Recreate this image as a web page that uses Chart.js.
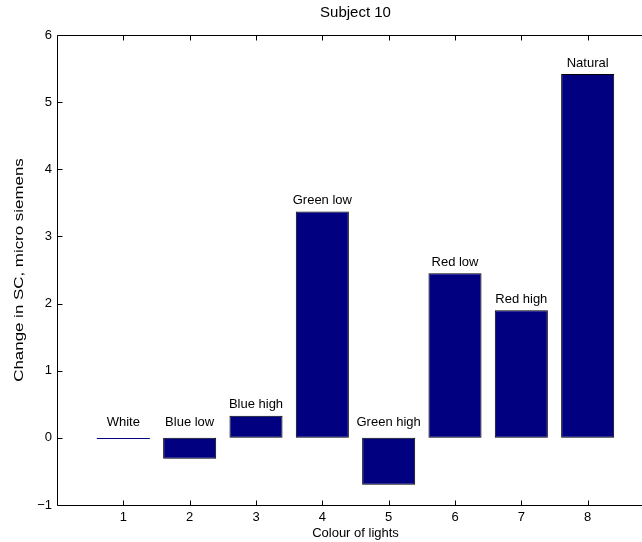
<!DOCTYPE html>
<html>
<head>
<meta charset="utf-8">
<script src="https://cdn.jsdelivr.net/npm/chart.js@4.4.1/dist/chart.umd.min.js"></script>
<style>
  html, body { margin: 0; padding: 0; background: #fff; overflow: hidden; width: 642px; height: 542px; }
  #wrap { position: relative; width: 642px; height: 542px; overflow: hidden; }
  #c { display: block; width: 700px; height: 542px; }
</style>
</head>
<body>
<div id="wrap"><canvas id="c" width="700" height="542"></canvas></div>
<script>
// Change in skin conductance per lighting condition (Subject 10)
const lightPositions = [1, 2, 3, 4, 5, 6, 7, 8];
const lightNames = ['White', 'Blue low', 'Blue high', 'Green low', 'Green high', 'Red low', 'Red high', 'Natural'];
const scChange = [0, -0.31, 0.33, 3.37, -0.70, 2.45, 1.90, 5.42];
const xTickValues = [1, 2, 3, 4, 5, 6, 7, 8];
const yTickValues = [-1, 0, 1, 2, 3, 4, 5, 6];
const yAxisLabel = 'Change in SC, micro siemens';

const FONT = "'Liberation Sans', Arial, Helvetica, sans-serif";
const BAR_FILL = '#000080';

// Axes frame (left, top, bottom) with inward tick marks
const boxTicks = {
  id: 'boxTicks',
  afterDraw(chart) {
    const { ctx, chartArea: a, scales: { x, y } } = chart;
    const len = 5;
    const L = Math.round(a.left) + 0.5, T = Math.round(a.top) + 0.5;
    const R = Math.round(a.right) + 0.5, B = Math.round(a.bottom) + 0.5;
    ctx.save();
    ctx.strokeStyle = '#000';
    ctx.lineWidth = 1;
    ctx.beginPath();
    ctx.moveTo(R, T); ctx.lineTo(L, T); ctx.lineTo(L, B); ctx.lineTo(R, B);
    yTickValues.forEach(v => {
      const py = Math.round(y.getPixelForValue(v)) + 0.5;
      ctx.moveTo(L, py); ctx.lineTo(L + len, py);
    });
    xTickValues.forEach(v => {
      const px = Math.round(x.getPixelForValue(v)) + 0.5;
      ctx.moveTo(px, B); ctx.lineTo(px, B - len);
      ctx.moveTo(px, T); ctx.lineTo(px, T + len);
    });
    ctx.stroke();

    // vertical axis title, drawn with the text run stretched along its length
    ctx.font = '13px ' + FONT;
    ctx.fillStyle = '#000';
    ctx.textAlign = 'center';
    ctx.textBaseline = 'middle';
    ctx.translate(19.5, (a.top + a.bottom) / 2);
    ctx.rotate(-Math.PI / 2);
    ctx.scale(1.3, 1);
    ctx.fillText(yAxisLabel, 0, 0);
    ctx.restore();
  }
};

// Zero-height bars as a thin line, and a name label above each bar
const barLabels = {
  id: 'barLabels',
  afterDatasetsDraw(chart) {
    const { ctx, scales: { y } } = chart;
    const meta = chart.getDatasetMeta(0);
    ctx.save();
    ctx.font = '13px ' + FONT;
    ctx.fillStyle = '#000';
    ctx.textAlign = 'center';
    ctx.textBaseline = 'middle';
    meta.data.forEach((el, i) => {
      const v = scChange[i];
      const { x, width } = el.getProps(['x', 'width'], true);
      if (v === 0) {
        const py = Math.round(y.getPixelForValue(0)) + 0.5;
        ctx.save();
        ctx.strokeStyle = BAR_FILL;
        ctx.lineWidth = 1;
        ctx.beginPath();
        ctx.moveTo(x - width / 2, py); ctx.lineTo(x + width / 2, py);
        ctx.stroke();
        ctx.restore();
      }
      const base = y.getPixelForValue(Math.max(v, 0));
      const off = v > 0 ? 11 : 15;
      ctx.fillText(lightNames[i], x, base - off);
    });
    ctx.restore();
  }
};

new Chart(document.getElementById('c'), {
  type: 'bar',
  data: {
    datasets: [{
      data: lightPositions.map((p, i) => ({ x: p, y: scChange[i] })),
      backgroundColor: BAR_FILL,
      borderColor: '#000',
      borderWidth: 1,
      borderSkipped: false,
      barPercentage: 0.8,
      categoryPercentage: 1.0
    }]
  },
  options: {
    responsive: false,
    maintainAspectRatio: false,
    devicePixelRatio: 1,
    animation: false,
    layout: { padding: { left: 0, right: 46, top: 0, bottom: 0 } },
    plugins: {
      legend: { display: false },
      tooltip: { enabled: false },
      title: {
        display: true,
        fullSize: false,
        text: 'Subject 10',
        color: '#000',
        font: { family: FONT, size: 15, weight: 'normal' },
        padding: { top: 4, bottom: 13 }
      }
    },
    scales: {
      x: {
        type: 'linear',
        offset: false,
        min: 0,
        max: 9,
        afterBuildTicks: s => { s.ticks = xTickValues.map(v => ({ value: v })); },
        afterFit: s => { s.height = 37; s.paddingLeft = 0; s.paddingRight = 0; },
        grid: { display: false, drawTicks: false, offset: false },
        border: { display: false },
        ticks: { color: '#000', font: { family: FONT, size: 13 }, padding: 5, maxRotation: 0 },
        title: {
          display: true,
          text: 'Colour of lights',
          color: '#000',
          font: { family: FONT, size: 13 },
          padding: { top: 0, bottom: 1.2 }
        }
      },
      y: {
        min: -1,
        max: 6,
        afterBuildTicks: s => { s.ticks = yTickValues.map(v => ({ value: v })); },
        afterFit: s => { s.width = 57; },
        grid: { display: false, drawTicks: false },
        border: { display: false },
        ticks: {
          color: '#000',
          font: { family: FONT, size: 13 },
          padding: 5,
          callback: v => (v < 0 ? '\u2212' + Math.abs(v) : String(v))
        },
        title: { display: false }
      }
    }
  },
  plugins: [boxTicks, barLabels]
});
</script>
</body>
</html>
